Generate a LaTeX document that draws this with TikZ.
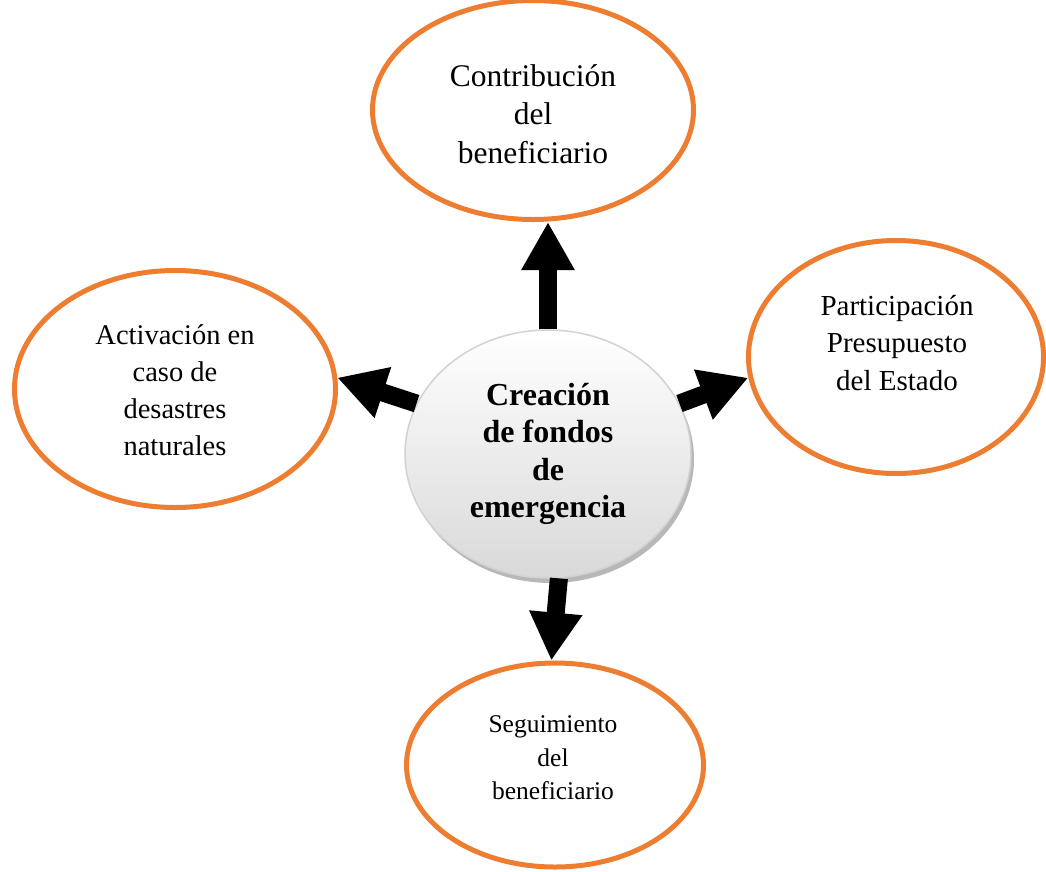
\documentclass[tikz,border=0pt]{standalone}
\usepackage{fontspec}
\setmainfont{Liberation Serif}
\usetikzlibrary{shapes.geometric,arrows.meta,shadows}
\definecolor{orangeline}{HTML}{ED7D31}
\begin{document}
\begin{tikzpicture}[x=1pt,y=-1pt,
  outer/.style={ellipse,draw=orangeline,line width=5pt,inner sep=0pt,align=center,fill=white},
  label/.style={align=center,inner sep=0pt},
  hub/.style={ellipse,draw=gray!35,line width=1.5pt,inner sep=0pt,align=center,
    top color=white,bottom color=gray!30,
    drop shadow={shadow xshift=3pt,shadow yshift=-5pt,fill=gray!70,opacity=0.8}},
  bigarrow/.style={line width=18pt,-{Triangle[length=48pt,width=50pt]}}]
\useasboundingbox (0,0) rectangle (1046,871);
\node[outer,minimum width=321pt,minimum height=219pt] (top) at (533,110) {};
\node[label,font=\fontsize{31.5}{38.5}\selectfont] (toptext) at (533,114) {Contribución\\del\\beneficiario};
\node[outer,minimum width=295pt,minimum height=233pt] (right) at (896,357) {};
\node[label,font=\fontsize{29}{37.5}\selectfont] (righttext) at (897,343) {Participación\\Presupuesto\\del Estado};
\node[outer,minimum width=321pt,minimum height=237pt] (left) at (175,389) {};
\node[label,font=\fontsize{28.5}{37}\selectfont] (lefttext) at (175,390) {Activación en\\caso de\\desastres\\naturales};
\node[outer,minimum width=297pt,minimum height=204pt] (bottom) at (555,765) {};
\node[label,font=\fontsize{25.5}{33.5}\selectfont] (bottomtext) at (553,758) {Seguimiento\\del\\beneficiario};
\node[hub,minimum width=286pt,minimum height=248pt,font=\bfseries\fontsize{32}{37.5}\selectfont] (c) at (548,454) {Creación\\de fondos\\de\\emergencia};
\draw[bigarrow] (c.north) -- (c.north |- top.south);
\draw[bigarrow] (c.159) -- (left.4);
\draw[bigarrow] (c.21) -- (right.188);
\draw[bigarrow] (c.275) -- (bottom.92);
\end{tikzpicture}
\end{document}
